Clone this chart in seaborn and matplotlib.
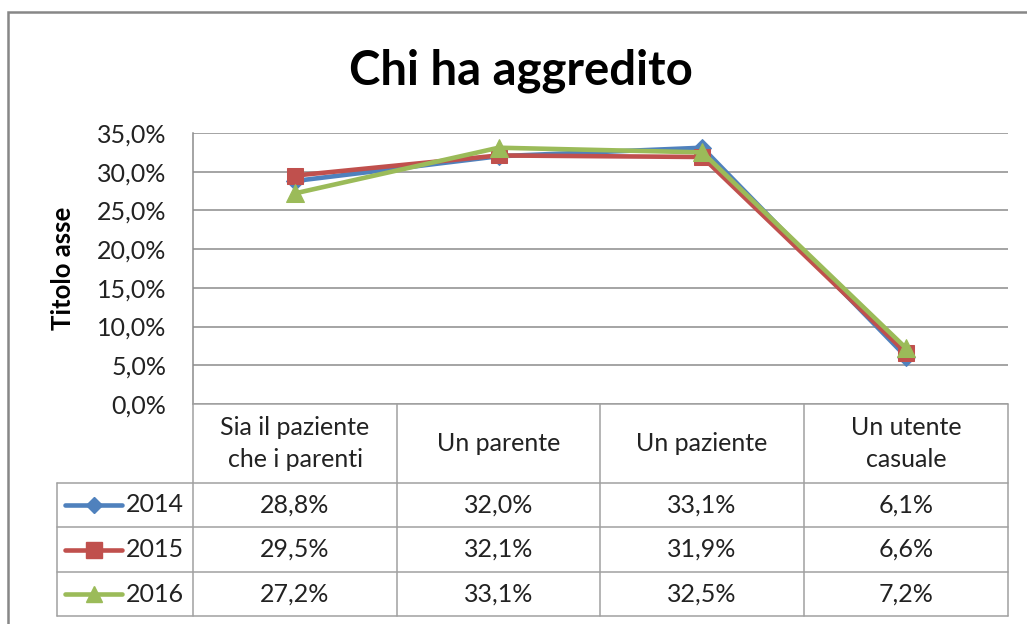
import matplotlib
matplotlib.use("Agg")
import matplotlib.pyplot as plt
from matplotlib.lines import Line2D
from matplotlib.patches import Rectangle
from matplotlib.ticker import FuncFormatter
import seaborn as sns
import pandas as pd

categories = ["Sia il paziente\nche i parenti", "Un parente", "Un paziente", "Un utente\ncasuale"]
years = ["2014", "2015", "2016"]
v2014 = [28.8, 32.0, 33.1, 6.1]
v2015 = [29.5, 32.1, 31.9, 6.6]
v2016 = [27.2, 33.1, 32.5, 7.2]

colors = ["#4F81BD", "#C0504D", "#9BBB59"]
markers = ["D", "s", "^"]
msizes = [9, 12, 13]

sns.set_style("white")
plt.rcParams["font.family"] = ["Lato", "DejaVu Sans"]

W, H = 1027, 624
fig = plt.figure(figsize=(W / 100, H / 100), dpi=100)

# pixel helpers (y measured from top)
def fx(x):
    return x / W

def fy(y):
    return 1 - y / H

FS = 18
x0, x1, ytop, ybot = 193, 1008, 133, 404
ax = fig.add_axes([fx(x0), fy(ybot), fx(x1) - fx(x0), fy(ytop) - fy(ybot)])

rows = []
for yr, vals in zip(years, [v2014, v2015, v2016]):
    for i, v in enumerate(vals):
        rows.append({"pos": i, "val": v, "anno": yr})
df = pd.DataFrame(rows)

for yr, c, m, ms in zip(years, colors, markers, msizes):
    sns.lineplot(data=df[df["anno"] == yr], x="pos", y="val", color=c, marker=m,
                 markersize=ms, markeredgecolor=c, linewidth=3.3, ax=ax, legend=False)

ax.set_xlim(-0.5, len(categories) - 0.5)
ax.set_ylim(0, 35)
ax.set_yticks([0, 5, 10, 15, 20, 25, 30, 35])
ax.yaxis.set_major_formatter(FuncFormatter(lambda v, p: f"{v:.1f}%".replace(".", ",")))
ax.set_xticks([])
ax.set_xlabel("")
ax.set_ylabel("")
ax.grid(axis="y", color="#8C8C8C", linewidth=1.1)
ax.set_axisbelow(True)
for s in ["top", "right", "bottom"]:
    ax.spines[s].set_visible(False)
ax.spines["left"].set_color("#8C8C8C")
ax.spines["left"].set_linewidth(1.1)
ax.tick_params(axis="y", labelsize=FS, length=0, pad=19, colors="#222222")

fig.text(fx(63), fy(268), "Titolo asse", rotation=90, ha="center", va="center",
         fontsize=18.5, fontweight="bold", color="black")
fig.text(fx(521), fy(71), "Chi ha aggredito", ha="center", va="center",
         fontsize=34, fontweight="bold", color="black")

# outer frame
fig.add_artist(Rectangle((fx(8), fy(640)), fx(1040) - fx(8), fy(12) - fy(640),
                         fill=False, edgecolor="#878787", linewidth=1.8,
                         transform=fig.transFigure))

# data table
gc = "#A0A0A0"
col_x = [193, 397, 600, 804, 1008]
row_y = [404, 483, 527, 572, 616]
leg_x0 = 57

def hline(xa, xb, y):
    fig.add_artist(Line2D([fx(xa), fx(xb)], [fy(y), fy(y)], color=gc, linewidth=1.1,
                          transform=fig.transFigure))

def vline(x, ya, yb):
    fig.add_artist(Line2D([fx(x), fx(x)], [fy(ya), fy(yb)], color=gc, linewidth=1.1,
                          transform=fig.transFigure))

hline(col_x[0], col_x[-1], row_y[0])
for y in row_y[1:]:
    hline(leg_x0, col_x[-1], y)
for x in col_x:
    vline(x, row_y[0], row_y[-1])
vline(leg_x0, row_y[1], row_y[-1])

for i, cat in enumerate(categories):
    cx = (col_x[i] + col_x[i + 1]) / 2
    cy = (row_y[0] + row_y[1]) / 2
    fig.text(fx(cx), fy(cy), cat, ha="center", va="center", fontsize=FS,
             color="#222222", linespacing=1.5)

for r, (yr, vals, c, m, ms) in enumerate(zip(years, [v2014, v2015, v2016], colors, markers, msizes)):
    cy = (row_y[r + 1] + row_y[r + 2]) / 2
    fig.add_artist(Line2D([fx(65), fx(122)], [fy(cy), fy(cy)], color=c, linewidth=3.3,
                          solid_capstyle="round", transform=fig.transFigure))
    fig.add_artist(Line2D([fx(93.5)], [fy(cy)], color=c, marker=m, markersize=ms - 1,
                          markeredgecolor=c, linestyle="none", transform=fig.transFigure))
    fig.text(fx(126), fy(cy), yr, ha="left", va="center", fontsize=FS, color="#222222")
    for i, v in enumerate(vals):
        cx = (col_x[i] + col_x[i + 1]) / 2
        fig.text(fx(cx), fy(cy), f"{v:.1f}%".replace(".", ","), ha="center", va="center",
                 fontsize=FS, color="#222222")

fig.savefig("out.png", dpi=100)
